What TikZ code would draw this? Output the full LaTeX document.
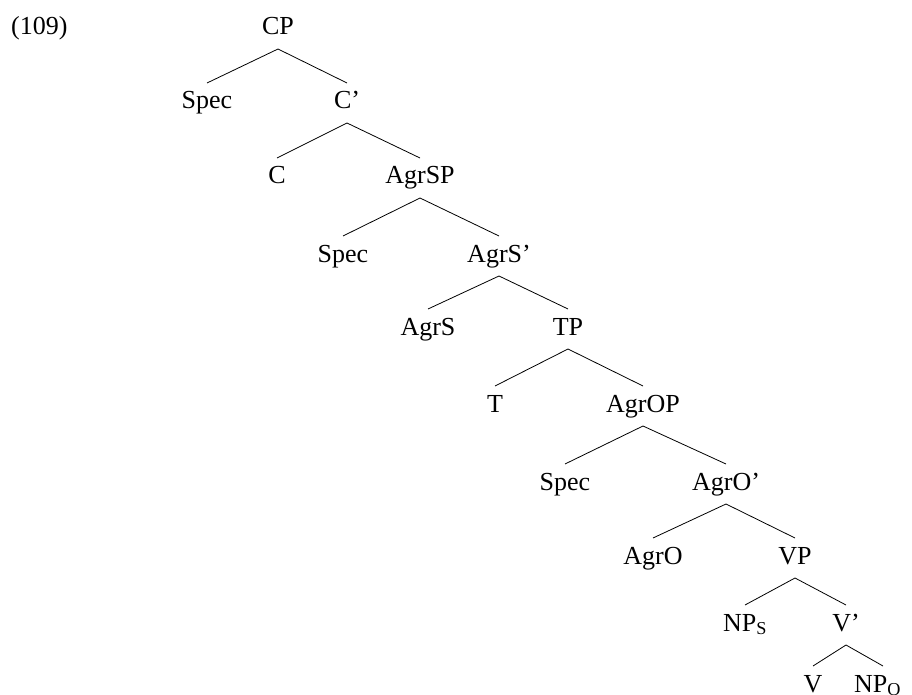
\documentclass[tikz,border=0pt]{standalone}
\usepackage{fontspec}
\setmainfont{Liberation Serif}
\begin{document}
\begin{tikzpicture}[x=1pt,y=-1pt,
  every node/.style={font=\fontsize{26}{30}\selectfont, inner sep=0pt, anchor=base},
  branch/.style={line width=0.8pt, black}]
\useasboundingbox (0,0) rectangle (912,695);
\newcommand\treebranch[2]{\draw[branch] ([yshift=-14pt]#1.base) -- ([yshift=26pt]#2.base);}
\node[anchor=base west] (ex) at (11,35) {(109)};
\node (cp) at (278,35) {CP};
\node (specA) at (207,109) {Spec};
\node (cbar) at (347,109) {C’};
\node (c) at (277,184) {C};
\node (agrsp) at (420,184) {AgrSP};
\node (specB) at (343,262) {Spec};
\node (agrsbar) at (499,262) {AgrS’};
\node (agrs) at (428,335) {AgrS};
\node (tp) at (568,335) {TP};
\node (t) at (495,412) {T};
\node (agrop) at (643,412) {AgrOP};
\node (specC) at (565,490) {Spec};
\node (agrobar) at (726,490) {AgrO’};
\node (agro) at (653,564) {AgrO};
\node (vp) at (795,564) {VP};
\node (nps) at (745,631) {NP\textsubscript{S}};
\node (vbar) at (846,631) {V’};
\node (v) at (813,692) {V};
\node[anchor=base west] (npo) at (854,692) {NP\textsubscript{O}};
\treebranch{cp}{specA}
\treebranch{cp}{cbar}
\treebranch{cbar}{c}
\treebranch{cbar}{agrsp}
\treebranch{agrsp}{specB}
\treebranch{agrsp}{agrsbar}
\treebranch{agrsbar}{agrs}
\treebranch{agrsbar}{tp}
\treebranch{tp}{t}
\treebranch{tp}{agrop}
\treebranch{agrop}{specC}
\treebranch{agrop}{agrobar}
\treebranch{agrobar}{agro}
\treebranch{agrobar}{vp}
\treebranch{vp}{nps}
\treebranch{vp}{vbar}
\treebranch{vbar}{v}
\draw[branch] ([yshift=-14pt]vbar.base) -- ([xshift=29pt,yshift=26pt]npo.base west);
\end{tikzpicture}
\end{document}
